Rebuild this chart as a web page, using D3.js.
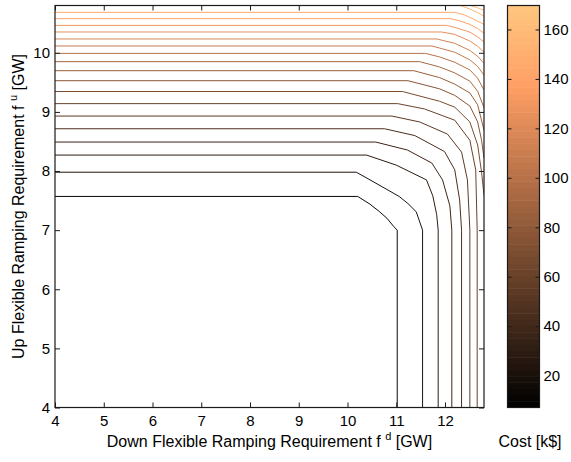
<!DOCTYPE html>
<html>
<head>
<meta charset="utf-8">
<script src="https://cdn.jsdelivr.net/npm/d3@7"></script>
<style>
  body { margin: 0; background: #fff; }
  text { font-family: "Liberation Sans", Arial, sans-serif; fill: #000; }
</style>
</head>
<body>
<svg id="chart" width="571" height="462"></svg>
<script>
// tick values
const xTicks = [4, 5, 6, 7, 8, 9, 10, 11, 12];
const yTicks = [4, 5, 6, 7, 8, 9, 10];
const colorTicks = [20, 40, 60, 80, 100, 120, 140, 160];

// cost range shown by the colorbar [k$]
const costRange = [7.1, 169.7];

// contour levels [k$], lowest first
const contourLevels = [14.8, 22.6, 30.3, 38.1, 45.8, 53.6, 61.3, 69.0, 76.8, 84.5,
  92.3, 100.0, 107.8, 115.5, 123.2, 131.0, 138.7, 146.5, 154.2, 162.0];

// contour lines as [f_d, f_u] points, one per level
const contourPaths = [
  [[4, 7.57], [10.21, 7.57], [10.46, 7.44], [10.66, 7.31], [10.81, 7.2], [10.95, 7.06], [11.02, 7.0], [11.02, 4]],
  [[4, 7.98], [10.18, 7.98], [10.42, 7.87], [11.06, 7.57], [11.24, 7.45], [11.41, 7.31], [11.54, 7.0], [11.54, 4]],
  [[4, 8.27], [10.39, 8.27], [11.0, 8.1], [11.62, 7.85], [11.75, 7.58], [11.83, 7.26], [11.86, 7.0], [11.86, 4]],
  [[4, 8.49], [10.58, 8.49], [11.23, 8.355], [11.73, 8.135], [11.95, 7.85], [12.1, 7.41], [12.14, 7.0], [12.14, 4]],
  [[4, 8.715], [10.76, 8.715], [11.38, 8.6], [11.99, 8.33], [12.2, 8.02], [12.3, 7.51], [12.34, 7.0], [12.34, 4]],
  [[4, 8.93], [10.91, 8.93], [11.48, 8.83], [12.05, 8.625], [12.34, 8.32], [12.46, 7.85], [12.51, 7.0], [12.51, 4]],
  [[4, 9.14], [11.03, 9.14], [11.58, 9.05], [12.2, 8.86], [12.51, 8.52], [12.63, 8.02], [12.66, 7.0], [12.66, 4]],
  [[4, 9.345], [11.13, 9.345], [11.89, 9.18], [12.2, 9.08], [12.51, 8.83], [12.67, 8.44], [12.75, 7.98], [12.8, 7.59]],
  [[4, 9.528], [11.24, 9.528], [11.89, 9.39], [12.2, 9.28], [12.51, 9.1], [12.67, 8.83], [12.75, 8.52], [12.8, 8.22]],
  [[4, 9.697], [11.36, 9.697], [11.89, 9.58], [12.2, 9.47], [12.51, 9.32], [12.67, 9.12], [12.8, 8.69]],
  [[4, 9.85], [11.48, 9.85], [11.89, 9.76], [12.2, 9.66], [12.51, 9.52], [12.67, 9.35], [12.8, 9.07]],
  [[4, 9.99], [11.6, 9.99], [11.89, 9.93], [12.2, 9.84], [12.51, 9.71], [12.67, 9.57], [12.8, 9.37]],
  [[4, 10.115], [11.73, 10.115], [11.89, 10.08], [12.2, 10.01], [12.51, 9.88], [12.67, 9.77], [12.8, 9.62]],
  [[4, 10.234], [11.83, 10.234], [12.2, 10.16], [12.51, 10.04], [12.67, 9.94], [12.8, 9.82]],
  [[4, 10.352], [11.93, 10.352], [12.2, 10.31], [12.51, 10.2], [12.67, 10.11], [12.8, 10.01]],
  [[4, 10.464], [12.03, 10.464], [12.2, 10.43], [12.51, 10.35], [12.67, 10.27], [12.8, 10.18]],
  [[4, 10.577], [12.12, 10.577], [12.3, 10.54], [12.51, 10.48], [12.67, 10.41], [12.8, 10.33]],
  [[4, 10.684], [12.2, 10.684], [12.4, 10.64], [12.61, 10.56], [12.8, 10.48]],
  [[12.32, 10.8], [12.51, 10.74], [12.67, 10.68], [12.8, 10.62]],
  [[12.53, 10.8], [12.67, 10.76], [12.8, 10.72]]
];

const svg = d3.select("#chart");

// plot frame
const plot = { left: 55, right: 484, top: 5.5, bottom: 407.5 };
const bar = { left: 507.5, right: 539.5 };

const x = d3.scaleLinear().domain([4, 12.8]).range([plot.left, plot.right]);
const y = d3.scaleLinear().domain([4, 10.8]).range([plot.bottom, plot.top]);
const yc = d3.scaleLinear().domain(costRange).range([plot.bottom, plot.top]);

// MATLAB "copper" colormap
const span = costRange[1] - costRange[0];
const copper = d3.scaleLinear()
  .domain([costRange[0], costRange[0] + 0.8 * span, costRange[1]])
  .range(["rgb(0,0,0)", "rgb(255,159,101)", "rgb(255,199,127)"])
  .clamp(true);

svg.append("rect")
  .attr("width", 571).attr("height", 462).attr("fill", "#fff");

// clip for contour lines
svg.append("clipPath").attr("id", "plotClip")
  .append("rect")
  .attr("x", plot.left).attr("y", plot.top)
  .attr("width", plot.right - plot.left)
  .attr("height", plot.bottom - plot.top);

const line = d3.line()
  .x((d) => x(d[0]))
  .y((d) => y(d[1]));

svg.append("g")
  .attr("clip-path", "url(#plotClip)")
  .selectAll("path")
  .data(contourPaths)
  .join("path")
  .attr("d", line)
  .attr("fill", "none")
  .attr("stroke", (d, i) => copper(contourLevels[i]))
  .attr("stroke-width", 1)
  .attr("stroke-linejoin", "round");

// axes with inward ticks, mirrored on the box
const tickLen = 5;
const axisColor = "#1a1a1a";
const fmt = d3.format("d");

svg.append("g")
  .attr("transform", `translate(0,${plot.bottom})`)
  .call(d3.axisBottom(x).tickValues(xTicks).tickFormat(fmt).tickSizeInner(-tickLen).tickSizeOuter(0).tickPadding(8))
  .call((g) => g.select(".domain").remove());
svg.append("g")
  .attr("transform", `translate(0,${plot.top})`)
  .call(d3.axisTop(x).tickValues(xTicks).tickSizeInner(-tickLen).tickSizeOuter(0).tickFormat(""))
  .call((g) => g.select(".domain").remove());
svg.append("g")
  .attr("transform", `translate(${plot.left},0)`)
  .call(d3.axisLeft(y).tickValues(yTicks).tickFormat(fmt).tickSizeInner(-tickLen).tickSizeOuter(0).tickPadding(5))
  .call((g) => g.select(".domain").remove());
svg.append("g")
  .attr("transform", `translate(${plot.right},0)`)
  .call(d3.axisRight(y).tickValues(yTicks).tickSizeInner(-tickLen).tickSizeOuter(0).tickFormat(""))
  .call((g) => g.select(".domain").remove());

svg.selectAll(".tick line").attr("stroke", axisColor);
svg.selectAll(".tick text")
  .attr("font-size", 15)
  .attr("font-family", "Liberation Sans, Arial, sans-serif")
  .attr("fill", "#000");

svg.append("rect")
  .attr("x", plot.left).attr("y", plot.top)
  .attr("width", plot.right - plot.left)
  .attr("height", plot.bottom - plot.top)
  .attr("fill", "none")
  .attr("stroke", axisColor)
  .attr("stroke-width", 1.2);

// colorbar, 64 bands like the MATLAB colormap
const nBands = 64;
const bands = d3.range(nBands).map((i) => ({
  v0: costRange[0] + (i / nBands) * span,
  v1: costRange[0] + ((i + 1) / nBands) * span,
  vm: costRange[0] + ((i + 0.5) / nBands) * span
}));

svg.append("g")
  .selectAll("rect")
  .data(bands)
  .join("rect")
  .attr("x", bar.left)
  .attr("width", bar.right - bar.left)
  .attr("y", (d) => yc(d.v1))
  .attr("height", (d) => yc(d.v0) - yc(d.v1) + 0.5)
  .attr("fill", (d) => copper(d.vm));

svg.append("g")
  .attr("transform", `translate(${bar.right},0)`)
  .call(d3.axisRight(yc).tickValues(colorTicks).tickSizeInner(-4).tickSizeOuter(0).tickPadding(4))
  .call((g) => g.select(".domain").remove())
  .call((g) => g.selectAll(".tick text").attr("font-size", 15).attr("fill", "#000")
    .attr("font-family", "Liberation Sans, Arial, sans-serif"))
  .call((g) => g.selectAll(".tick line").attr("stroke", axisColor));
svg.append("g")
  .attr("transform", `translate(${bar.left},0)`)
  .call(d3.axisLeft(yc).tickValues(colorTicks).tickSizeInner(-4).tickSizeOuter(0).tickFormat(""))
  .call((g) => g.select(".domain").remove())
  .call((g) => g.selectAll(".tick line").attr("stroke", axisColor));

svg.append("rect")
  .attr("x", bar.left).attr("y", plot.top)
  .attr("width", bar.right - bar.left)
  .attr("height", plot.bottom - plot.top)
  .attr("fill", "none")
  .attr("stroke", axisColor)
  .attr("stroke-width", 1.2);

// axis titles
const xTitle = svg.append("text")
  .attr("x", (plot.left + plot.right) / 2)
  .attr("y", 447)
  .attr("text-anchor", "middle")
  .attr("font-size", 16);
xTitle.append("tspan").text("Down Flexible Ramping Requirement f ");
xTitle.append("tspan").attr("font-size", 11).attr("dy", -7).text("d");
xTitle.append("tspan").attr("dy", 7).text(" [GW]");

const yTitle = svg.append("text")
  .attr("transform", `translate(24,${(plot.top + plot.bottom) / 2}) rotate(-90)`)
  .attr("text-anchor", "middle")
  .attr("font-size", 16);
yTitle.append("tspan").text("Up Flexible Ramping Requirement f ");
yTitle.append("tspan").attr("font-size", 11).attr("dy", -7).text("u");
yTitle.append("tspan").attr("dy", 7).text(" [GW]");

svg.append("text")
  .attr("x", 530)
  .attr("y", 447)
  .attr("text-anchor", "middle")
  .attr("font-size", 16)
  .text("Cost [k$]");
</script>
</body>
</html>
